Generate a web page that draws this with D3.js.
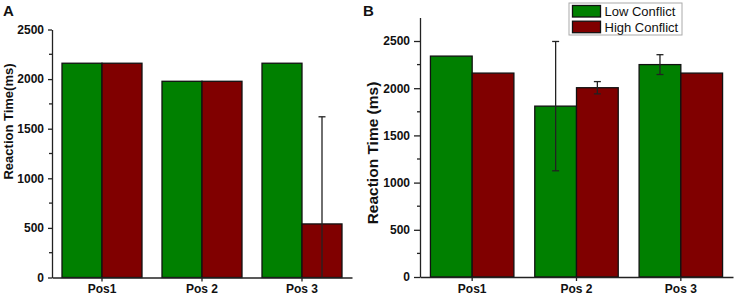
<!DOCTYPE html>
<html>
<head>
<meta charset="utf-8">
<script src="https://cdn.jsdelivr.net/npm/d3@7"></script>
<style>
  body { margin: 0; background: #fff; }
  svg { display: block; font-family: Arial, "Liberation Sans", sans-serif; }
</style>
</head>
<body>
<svg id="chart"></svg>
<script>
let w = 737;
let h = 297;

// data
const positions = ['Pos1', 'Pos 2', 'Pos 3'];
const seriesNames = ['Low Conflict', 'High Conflict'];
const colors = ['#008000', '#800000'];

// panel A
const lowA = [2160, 1978, 2160];
const highA = [2160, 1978, 540];
const lowErrA = [0, 0, 0];
const highErrA = [0, 0, 1080];
const ticksA = [0, 500, 1000, 1500, 2000, 2500];

// panel B
const lowB = [2340, 1810, 2250];
const highB = [2160, 2005, 2160];
const lowErrB = [0, 685, 105];
const highErrB = [0, 65, 0];
const ticksB = [0, 500, 1000, 1500, 2000, 2500];

const chart = d3.select('#chart')
    .attr('width', w)
    .attr('height', h);

function makeRows(low, high, lowErr, highErr) {
    return positions.map((p, i) => ({
        pos: p,
        vals: [
            { s: 0, v: low[i], e: lowErr[i] },
            { s: 1, v: high[i], e: highErr[i] }
        ]
    }));
}

function drawPanel(opts) {
    const g = chart.append('g');
    const y = d3.scaleLinear().domain([0, opts.yMax]).range([opts.y0, opts.y1]);
    const x = d3.scaleBand().domain(positions).range([opts.x0, opts.x1])
        .paddingInner(0.2).paddingOuter(0.1);
    const x1 = d3.scaleBand().domain([0, 1]).range([0, x.bandwidth()]);

    const rows = makeRows(opts.low, opts.high, opts.lowErr, opts.highErr);

    const grp = g.selectAll('g.grp')
        .data(rows)
        .enter()
        .append('g')
        .attr('transform', d => `translate(${x(d.pos)},0)`);

    grp.selectAll('rect')
        .data(d => d.vals)
        .enter()
        .append('rect')
        .attr('x', d => x1(d.s))
        .attr('width', x1.bandwidth())
        .attr('y', d => y(d.v))
        .attr('height', d => y(0) - y(d.v))
        .style('fill', d => colors[d.s])
        .style('stroke', '#111')
        .style('stroke-width', 1.3);

    // error bars
    const eb = grp.selectAll('g.err')
        .data(d => d.vals.filter(v => v.e > 0))
        .enter()
        .append('g')
        .style('stroke', '#222')
        .style('stroke-width', 1.3);
    const cx = d => x1(d.s) + x1.bandwidth() / 2;
    eb.append('line')
        .attr('x1', cx).attr('x2', cx)
        .attr('y1', d => y(Math.min(opts.yMax, d.v + d.e)))
        .attr('y2', d => y(Math.max(0, d.v - d.e)));
    eb.filter(d => d.v + d.e <= opts.yMax).append('line')
        .attr('x1', d => cx(d) - 3.5).attr('x2', d => cx(d) + 3.5)
        .attr('y1', d => y(d.v + d.e)).attr('y2', d => y(d.v + d.e));
    eb.filter(d => d.v - d.e >= 0).append('line')
        .attr('x1', d => cx(d) - 3.5).attr('x2', d => cx(d) + 3.5)
        .attr('y1', d => y(d.v - d.e)).attr('y2', d => y(d.v - d.e));

    // y axis
    const yAxis = g.append('g')
        .attr('transform', `translate(${opts.x0},0)`)
        .call(d3.axisLeft(y).tickValues(opts.ticks).tickFormat(d3.format('d'))
            .tickSize(opts.tickLen).tickPadding(4).tickSizeOuter(0));
    yAxis.selectAll('text')
        .style('font-size', '12px').style('font-weight', 'bold').style('fill', '#111');
    yAxis.append('g')
        .selectAll('line')
        .data(d3.range(250, opts.yMax, 500))
        .enter()
        .append('line')
        .attr('x1', -3).attr('x2', 0)
        .attr('y1', d => y(d)).attr('y2', d => y(d));
    yAxis.selectAll('line, path').style('stroke', '#222').style('stroke-width', 1.3);

    // x axis
    const xAxis = g.append('g')
        .attr('transform', `translate(0,${opts.y0})`)
        .call(d3.axisBottom(x).tickSize(4).tickPadding(3).tickSizeOuter(0));
    xAxis.selectAll('text')
        .style('font-size', '12px').style('font-weight', 'bold').style('fill', '#111');
    xAxis.selectAll('line, path').style('stroke', '#222').style('stroke-width', 1.3);

    // axis title
    g.append('text')
        .attr('transform', `translate(${opts.titleX},${opts.titleY}) rotate(-90)`)
        .style('text-anchor', 'middle')
        .style('font-size', opts.titleSize)
        .style('font-weight', 'bold')
        .style('fill', '#111')
        .text(opts.title);

    // panel letter
    g.append('text')
        .attr('x', opts.letterX)
        .attr('y', 16)
        .style('font-size', '15px')
        .style('font-weight', 'bold')
        .style('fill', '#111')
        .text(opts.letter);
}

drawPanel({
    low: lowA, high: highA, lowErr: lowErrA, highErr: highErrA,
    ticks: ticksA, yMax: 2500, tickLen: 4,
    x0: 52, x1: 352, y0: 277.5, y1: 29.5,
    title: 'Reaction Time(ms)', titleX: 13, titleY: 121.5, titleSize: '13px',
    letter: 'A', letterX: 3
});

drawPanel({
    low: lowB, high: highB, lowErr: lowErrB, highErr: highErrB,
    ticks: ticksB, yMax: 2750, tickLen: 6,
    x0: 420, x1: 733, y0: 277, y1: 17.4,
    title: 'Reaction Time (ms)', titleX: 378, titleY: 153, titleSize: '15.5px',
    letter: 'B', letterX: 363
});

// legend
const legend = chart.append('g').attr('transform', 'translate(569,3)');
legend.append('rect')
    .attr('width', 113).attr('height', 32)
    .style('fill', '#fff').style('stroke', '#aaa').style('stroke-width', 1);
legend.selectAll('rect.sw')
    .data(seriesNames)
    .enter()
    .append('rect')
    .attr('x', 3.5).attr('y', (d, i) => 2.5 + i * 15.7)
    .attr('width', 28).attr('height', 11.5)
    .style('fill', (d, i) => colors[i])
    .style('stroke', '#111').style('stroke-width', 1.3);
legend.selectAll('text')
    .data(seriesNames)
    .enter()
    .append('text')
    .attr('x', 35.5).attr('y', (d, i) => 13 + i * 15.7)
    .style('font-size', '13px')
    .style('fill', '#111')
    .text(d => d);
</script>
</body>
</html>
